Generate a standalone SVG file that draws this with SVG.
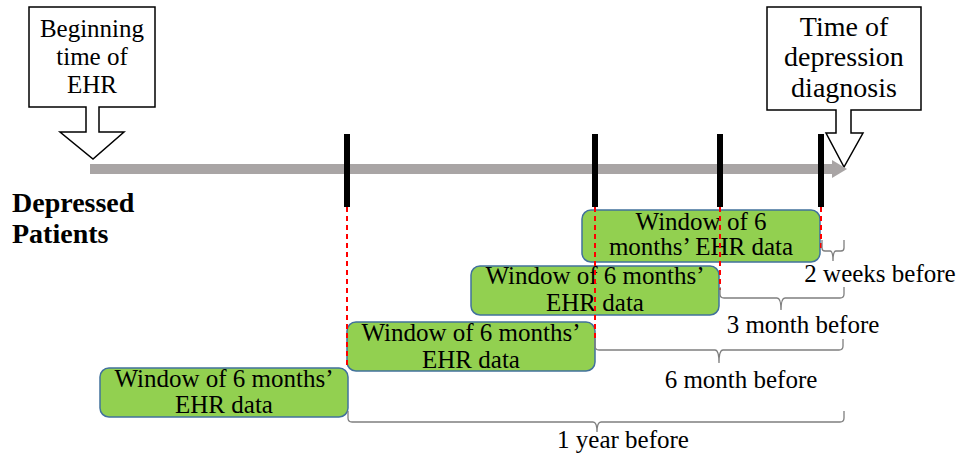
<svg xmlns="http://www.w3.org/2000/svg" width="959" height="457" viewBox="0 0 959 457" font-family="'Liberation Serif', 'Times New Roman', Tinos, 'DejaVu Serif', serif">
<style>
text{font-family:"Liberation Serif","Times New Roman",Tinos,"DejaVu Serif",serif;fill:#000}
.call{fill:#fff;stroke:#000;stroke-width:1.5}
.win{fill:#92D050;stroke:#41719C;stroke-width:1.5}
.wt{font-size:25px;text-anchor:middle}
.lab{font-size:25px;text-anchor:middle}
.tick{stroke:#000;stroke-width:6}
.red{stroke:#FF0000;stroke-width:2;stroke-dasharray:5 4;fill:none}
.brace{fill:none;stroke:#7F7F7F;stroke-width:1.3}
</style>
<rect width="959" height="457" fill="#fff"/>
<g id="start-callout">
<path class="call" d="M29,7 H155 V107 H99 V132 H124 L93,159 L60,132 H86 V107 H29 Z"/>
<text x="92" y="37" font-size="25" text-anchor="middle">Beginning</text>
<text x="92" y="65" font-size="25" text-anchor="middle">time of</text>
<text x="92" y="93" font-size="25" text-anchor="middle">EHR</text>
</g>
<g id="diagnosis-callout">
<path class="call" d="M767,7 H921 V110 H851 V133 H863 L844,167 L826,133 H836 V110 H767 Z"/>
<text x="844" y="36" font-size="28" text-anchor="middle">Time of</text>
<text x="844" y="66" font-size="28" text-anchor="middle">depression</text>
<text x="844" y="97" font-size="28" text-anchor="middle">diagnosis</text>
</g>
<g id="timeline">
<rect x="90" y="164" width="744" height="10" fill="#A9A5A5"/>
<polygon points="832,160 847,169 832,178" fill="#A9A5A5"/>
<line class="tick" x1="347" y1="134" x2="347" y2="207"/>
<line class="tick" x1="595" y1="134" x2="595" y2="207"/>
<line class="tick" x1="720" y1="134" x2="720" y2="207"/>
<line class="tick" x1="821" y1="134" x2="821" y2="207"/>
</g>
<g id="label-depressed">
<text x="12" y="212" font-size="28" font-weight="bold">Depressed</text>
<text x="12" y="243" font-size="28" font-weight="bold">Patients</text>
</g>
<g id="window-1year">
<rect class="win" x="100" y="368" width="248" height="49" rx="9"/>
<text class="wt" x="224" y="387">Window of 6 months’</text>
<text class="wt" x="224" y="413">EHR data</text>
</g>
<g id="window-6month">
<rect class="win" x="347" y="322" width="248" height="49" rx="9"/>
<text class="wt" x="471" y="341">Window of 6 months’</text>
<text class="wt" x="471" y="368">EHR data</text>
</g>
<g id="window-3month">
<rect class="win" x="471" y="266" width="248" height="49" rx="9"/>
<text class="wt" x="595" y="284">Window of 6 months’</text>
<text class="wt" x="595" y="311">EHR data</text>
</g>
<g id="window-2weeks">
<rect class="win" x="582" y="210" width="238" height="52" rx="9"/>
<text class="wt" x="701" y="230">Window of 6</text>
<text class="wt" x="701" y="255">months’ EHR data</text>
</g>
<g id="connectors">
<line class="red" x1="347" y1="207" x2="347" y2="369"/>
<line class="red" x1="595" y1="207" x2="595" y2="340"/>
<line class="red" x1="720" y1="207" x2="720" y2="290"/>
<line class="red" x1="821" y1="207" x2="821" y2="252"/>
<path class="brace" d="M822,240 V248 Q822,251 825,251 H830 Q833,251 833,261 Q833,251 836,251 H841 Q844,251 844,248 V240"/>
<path class="brace" d="M720,287 V294 Q720,298 724,298 H777 Q781,298 781,310 Q781,298 785,298 H840 Q844,298 844,294 V287"/>
<path class="brace" d="M595,339 V346 Q595,350 599,350 H715 Q719,350 719,363 Q719,350 723,350 H839 Q843,350 843,346 V339"/>
<path class="brace" d="M348,411 V418 Q348,422 352,422 H593 Q597,422 597,432 Q597,422 601,422 H840 Q844,422 844,418 V411"/>
</g>
<g id="interval-labels">
<text class="lab" x="880" y="282">2 weeks before</text>
<text class="lab" x="803" y="333">3 month before</text>
<text class="lab" x="741" y="388">6 month before</text>
<text class="lab" x="623" y="448">1 year before</text>
</g>
</svg>
